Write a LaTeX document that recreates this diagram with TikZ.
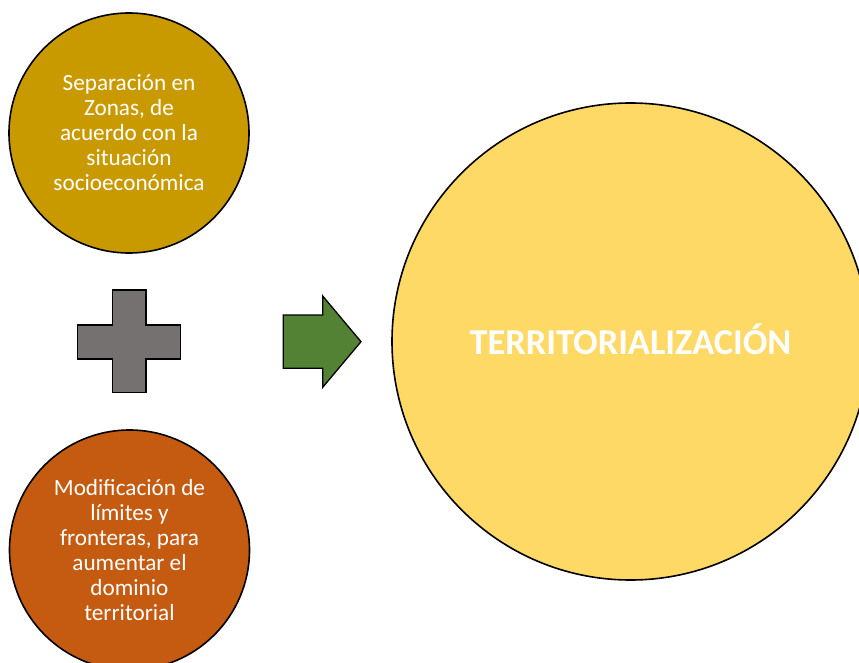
\documentclass[tikz,border=0pt]{standalone}
\usepackage{fontspec}
\setmainfont{Carlito}
\definecolor{gold}{HTML}{C99A00}
\definecolor{rust}{HTML}{C55A11}
\definecolor{sun}{HTML}{FFD966}
\definecolor{stone}{HTML}{767171}
\definecolor{leaf}{HTML}{548235}
\begin{document}
\begin{tikzpicture}[x=1pt,y=-1pt,
  bubble/.style={circle,draw=black,line width=1.6pt,inner sep=0pt,text=white,align=center,font=\fontsize{23.2}{25}\selectfont},
  shapeline/.style={draw=black,line width=1.3pt,line join=miter}]
\useasboundingbox (0,0) rectangle (859,663);
\node[bubble,fill=gold,minimum size=240pt] (zonas) at (129,133) {Separación en\\Zonas, de\\acuerdo con la\\situación\\socioeconómica};
\node[bubble,fill=rust,minimum size=240pt] (limites) at (129.5,550) {Modificación de\\límites y\\fronteras, para\\aumentar el\\dominio\\territorial};
\node[bubble,fill=sun,minimum size=477pt,font=\fontsize{36.4}{40}\selectfont\bfseries] (terr) at (630.5,341.5) {\raisebox{4pt}{TERRITORIALIZACIÓN}};
\path[shapeline,fill=stone] (112.7,290) -- (146,290) -- (146,325) -- (180.7,325) -- (180.7,359) -- (146,359) -- (146,392.7) -- (112.7,392.7) -- (112.7,359) -- (77.3,359) -- (77.3,325) -- (112.7,325) -- cycle;
\path[shapeline,fill=leaf] (283.3,315) -- (322.7,315) -- (322.7,296) -- (361,341.7) -- (322.7,387.3) -- (322.7,368.3) -- (283.3,368.3) -- cycle;
\end{tikzpicture}
\end{document}
